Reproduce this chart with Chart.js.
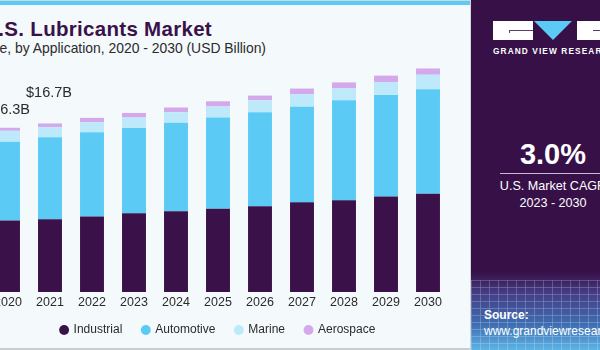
<!DOCTYPE html>
<html>
<head>
<meta charset="utf-8">
<script src="https://cdn.jsdelivr.net/npm/chart.js@4.4.1/dist/chart.umd.min.js"></script>
<style>
  html, body { margin: 0; padding: 0; }
  body { width: 600px; height: 350px; overflow: hidden; position: relative; background: #f4f9fc; font-family: "Liberation Sans", Arial, sans-serif; }
  #topline { position: absolute; left: 0; top: 0; width: 470px; height: 1px; background: #cfd6dc; }
  #stripe { position: absolute; left: 0; top: 1px; width: 470px; height: 4px; background: #5bcbf5; }
  #bottomline { position: absolute; left: 0; top: 348px; width: 470px; height: 2px; background: #c9cdd1; }
  #title { position: absolute; right: 388px; top: 17px; white-space: nowrap; font-weight: bold; font-size: 20.5px; letter-spacing: 0.3px; color: #3a1249; }
  #subtitle { position: absolute; right: 334px; top: 40px; white-space: nowrap; font-size: 13.9px; color: #2b2b2b; }
  #chartBox { position: absolute; left: -13px; top: 0; width: 462px; height: 355px; }
  #panel { position: absolute; left: 470px; top: 0; width: 130px; height: 350px; border-left: 1px solid #cfd6dc;
    background: linear-gradient(to bottom, #371047 0px, #371047 272px, #443b84 292px, #3f6fb3 325px, #5cb4e6 350px); overflow: hidden; }
  #grid { position: absolute; left: 0; top: 280px; width: 130px; height: 70px; opacity: 0.35;
    background-image: repeating-linear-gradient(to right, rgba(255,255,255,0.6) 0 1px, transparent 1px 9px),
                      repeating-linear-gradient(to bottom, rgba(255,255,255,0.6) 0 1px, transparent 1px 7px); }
  .logoBlock { position: absolute; top: 21px; height: 19px; background: #fff; }
  .notch { position: absolute; height: 1px; background: #5a3d70; }
  #tri { position: absolute; left: 63px; top: 21px; width: 0; height: 0; border-left: 19px solid transparent; border-right: 19px solid transparent; border-top: 19px solid #5bcbf5; }
  #brand { position: absolute; left: 22px; top: 46px; white-space: nowrap; font-size: 8.3px; font-weight: bold; letter-spacing: 1.1px; color: #fff; }
  #cagr { position: absolute; left: 0; width: 164px; top: 138px; text-align: center; font-size: 29px; font-weight: bold; color: #fff; }
  #rule { position: absolute; left: 29px; top: 173px; width: 110px; height: 1px; background: #c9b8d6; }
  #cagrText { position: absolute; left: 0; width: 164px; top: 178px; text-align: center; font-size: 12.6px; line-height: 17px; color: #fff; white-space: nowrap; }
  #source { position: absolute; left: 13px; top: 308px; font-size: 12px; line-height: 15.5px; color: #fff; white-space: nowrap; }
</style>
</head>
<body>
<div id="topline"></div>
<div id="stripe"></div>
<div id="title">U.S. Lubricants Market</div>
<div id="subtitle">size, by Application, 2020 - 2030 (USD Billion)</div>
<div id="chartBox"><canvas id="chart"></canvas></div>
<div id="bottomline"></div>
<div id="panel">
  <div class="logoBlock" style="left:22px;width:40px;"></div>
  <div class="notch" style="left:38px;top:30px;width:24px;"></div>
  <div class="notch" style="left:38px;top:30px;width:1px;height:3px;"></div>
  <div id="tri"></div>
  <div class="logoBlock" style="left:106px;width:30px;"></div>
  <div class="notch" style="left:122px;top:30px;width:8px;"></div>
  <div id="brand">GRAND VIEW RESEARCH</div>
  <div id="cagr">3.0%</div>
  <div id="rule"></div>
  <div id="cagrText">U.S. Market CAGR<br>2023 - 2030</div>
  <div id="grid"></div>
  <div id="source"><b>Source:</b><br>www.grandviewresearch.com</div>
</div>
<script>
const years = ["2020", "2021", "2022", "2023", "2024", "2025", "2026", "2027", "2028", "2029", "2030"];
const industrial = [7.09, 7.22, 7.49, 7.81, 8.01, 8.25, 8.50, 8.90, 9.09, 9.46, 9.75];
const automotive = [7.81, 8.12, 8.34, 8.44, 8.77, 9.06, 9.33, 9.46, 9.92, 10.08, 10.34];
const marine = [1.08, 1.01, 1.01, 1.05, 1.05, 1.08, 1.18, 1.25, 1.18, 1.28, 1.45];
const aerospace = [0.30, 0.36, 0.42, 0.45, 0.46, 0.52, 0.46, 0.56, 0.59, 0.63, 0.62];
const totalLabels = ["$16.3B", "$16.7B"];
const labelLift = [11, 23];
const legendShift = 9;

// value labels above the first two stacks
const totalsPlugin = {
  id: "totals",
  afterDatasetsDraw(chart) {
    const ctx = chart.ctx;
    const meta = chart.getDatasetMeta(chart.data.datasets.length - 1);
    ctx.save();
    ctx.font = "14.5px 'Liberation Sans', Arial, sans-serif";
    ctx.fillStyle = "#2b2b2b";
    ctx.textAlign = "center";
    ctx.textBaseline = "bottom";
    totalLabels.forEach((txt, i) => {
      const bar = meta.data[i];
      ctx.fillText(txt, bar.x - 1, bar.y - labelLift[i]);
    });
    ctx.restore();
  }
};

// pull the legend up a little closer to the year labels
const legendNudge = {
  id: "legendNudge",
  afterLayout(chart) {
    chart.legend.top -= legendShift;
    chart.legend.bottom -= legendShift;
  }
};

new Chart(document.getElementById("chart"), {
  type: "bar",
  data: {
    labels: years,
    datasets: [
      { label: "Industrial", data: industrial, backgroundColor: "#3a1249" },
      { label: "Automotive", data: automotive, backgroundColor: "#5bcbf6" },
      { label: "Marine", data: marine, backgroundColor: "#bde9fa" },
      { label: "Aerospace", data: aerospace, backgroundColor: "#d4a9eb" },
    ],
  },
  options: {
    responsive: true,
    maintainAspectRatio: false,
    animation: false,
    layout: { padding: { top: 60, bottom: 0, left: 0, right: 0 } },
    datasets: { bar: { barPercentage: 0.57, categoryPercentage: 1 } },
    scales: {
      x: {
        stacked: true,
        grid: { display: false, drawTicks: false },
        border: { display: false },
        ticks: { color: "#2b2b2b", padding: 3, font: { family: "'Liberation Sans', Arial, sans-serif", size: 12.5 } },
      },
      y: { stacked: true, display: false, min: 0, max: 23 },
    },
    plugins: {
      tooltip: { enabled: false },
      legend: {
        position: "bottom",
        labels: {
          usePointStyle: true,
          pointStyle: "circle",
          boxWidth: 7,
          boxHeight: 7,
          padding: 20,
          color: "#2b2b2b",
          font: { family: "'Liberation Sans', Arial, sans-serif", size: 12 },
        },
      },
    },
  },
  plugins: [totalsPlugin, legendNudge],
});
</script>
</body>
</html>
